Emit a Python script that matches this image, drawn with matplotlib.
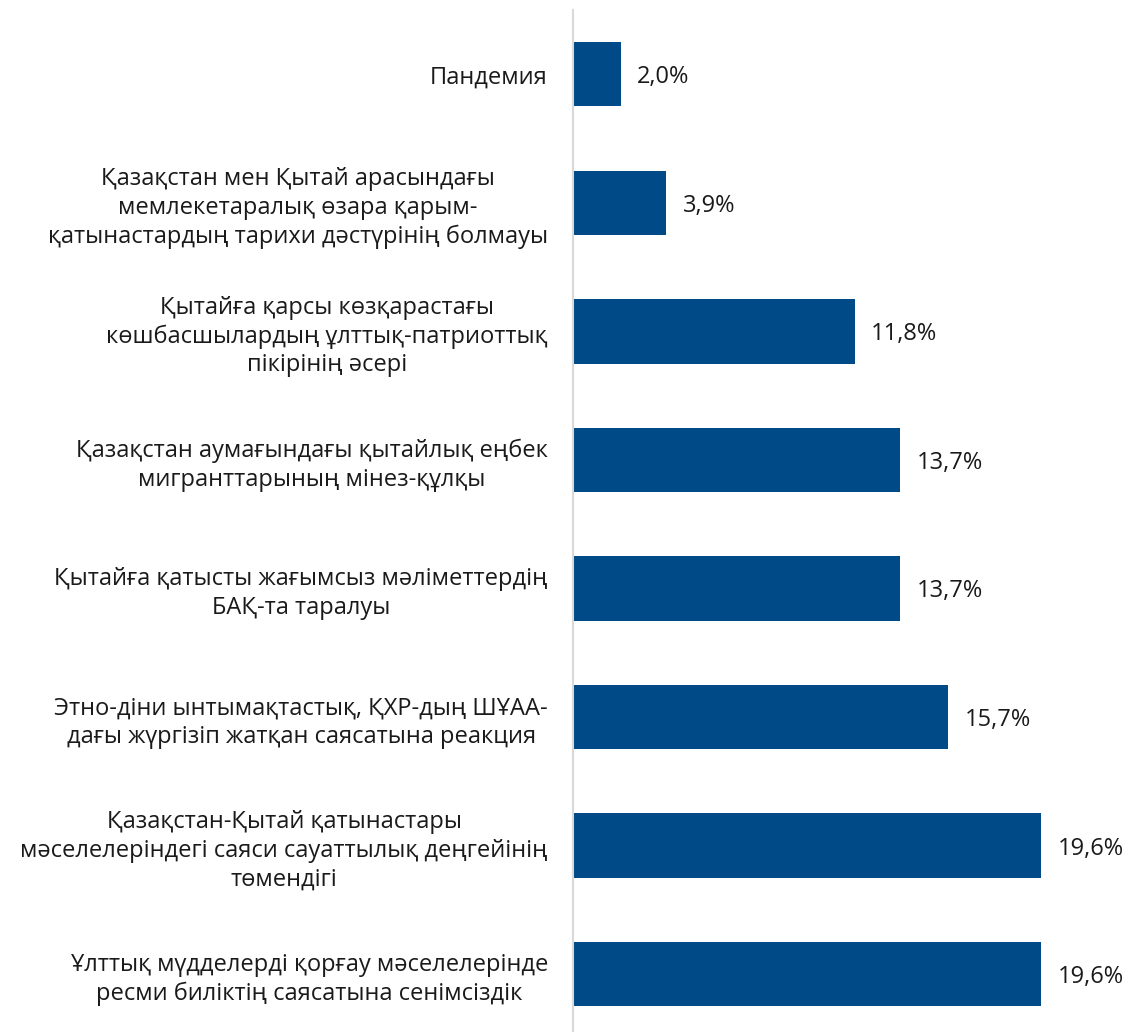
import matplotlib
matplotlib.use("Agg")
import matplotlib.pyplot as plt

plt.rcParams['font.family'] = ['Open Sans', 'Noto Sans', 'DejaVu Sans']

# Деректер
санаттар = [
    "Пандемия",
    "Қазақстан мен Қытай арасындағы\nмемлекетаралық өзара қарым-\nқатынастардың тарихи дәстүрінің болмауы",
    "Қытайға қарсы көзқарастағы\nкөшбасшылардың ұлттық-патриоттық\nпікірінің әсері",
    "Қазақстан аумағындағы қытайлық еңбек\nмигранттарының мінез-құлқы",
    "Қытайға қатысты жағымсыз мәліметтердің\nБАҚ-та таралуы",
    "Этно-діни ынтымақтастық, ҚХР-дың ШҰАА-\nдағы жүргізіп жатқан саясатына реакция",
    "Қазақстан-Қытай қатынастары\nмәселелеріндегі саяси сауаттылық деңгейінің\nтөмендігі",
    "Ұлттық мүдделерді қорғау мәселелерінде\nресми биліктің саясатына сенімсіздік",
]
мәндер = [2.0, 3.9, 11.8, 13.7, 13.7, 15.7, 19.6, 19.6]

fig = plt.figure(figsize=(11.33, 10.32), dpi=100)
ax = fig.add_axes([573 / 1133, 0, 560 / 1133, 1022 / 1032])

y = list(range(len(санаттар)))
ax.barh(y, мәндер, height=0.5, color='#004a87')

for yi, v in zip(y, мәндер):
    ax.text(v + 0.68, yi, f"{v:.1f}%".replace('.', ','), va='center_baseline', ha='left',
            fontsize=17, color='#1a1a1a')

ax.set_yticks(y)
ax.set_yticklabels(санаттар, fontsize=17, color='#1a1a1a', multialignment='center',
                   linespacing=1.25)
ax.tick_params(axis='y', length=0, pad=18)
ax.set_xticks([])
ax.set_xlim(0, 23.43)
ax.set_ylim(7.45, -0.5)

for s in ['top', 'right', 'bottom']:
    ax.spines[s].set_visible(False)
ax.spines['left'].set_color('#d9d9d9')
ax.spines['left'].set_linewidth(1.5)

fig.savefig('out.png', dpi=100)
